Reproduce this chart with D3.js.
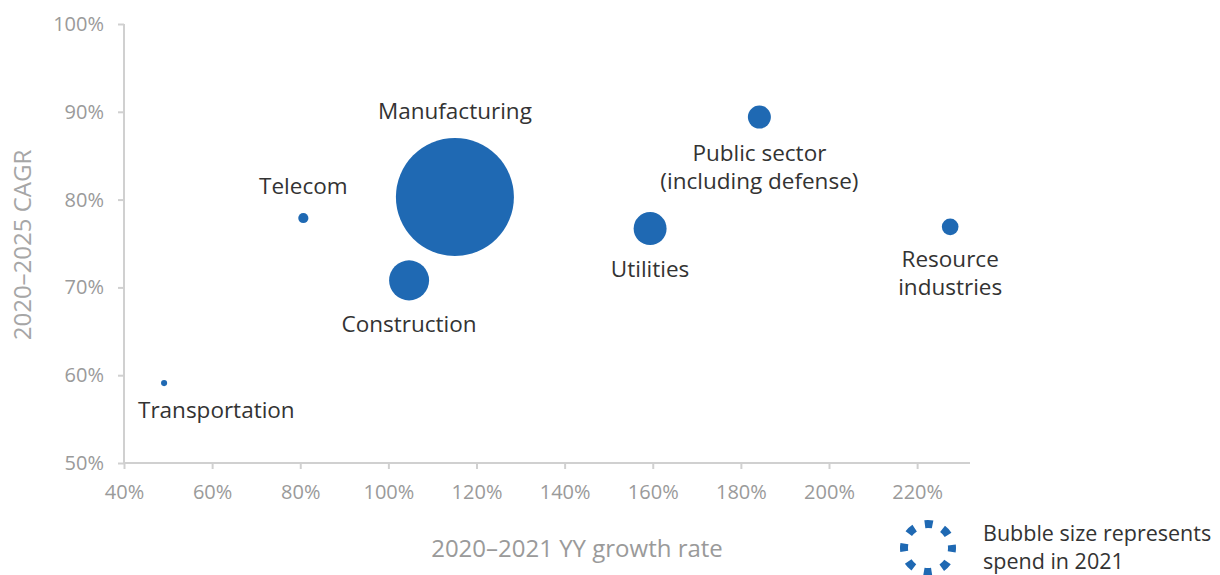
<!DOCTYPE html>
<html>
<head>
<meta charset="utf-8">
<script src="https://cdn.jsdelivr.net/npm/d3@7"></script>
<style>
  html, body { margin: 0; padding: 0; background: #fff; }
  svg { display: block; font-family: "Open Sans", "Noto Sans", sans-serif; }
</style>
</head>
<body>
<svg id="chart" width="1220" height="575"></svg>
<script>
// ---- Data ----
const sectors = ["Transportation", "Telecom", "Construction", "Manufacturing", "Utilities", "Public sector\n(including defense)", "Resource\nindustries"];
const growth2021 = [49.1, 80.7, 104.7, 115.1, 159.4, 184.2, 227.5];  // 2020–2021 YY growth rate, %
const cagr2025 = [59.1, 77.9, 70.8, 80.3, 76.7, 89.4, 76.9];         // 2020–2025 CAGR, %
const spend2021 = [0.27, 0.74, 11.5, 100, 7.8, 3.8, 2.0];            // relative spend in 2021 (bubble area)
const xTicks = [40, 60, 80, 100, 120, 140, 160, 180, 200, 220];
const yTicks = [50, 60, 70, 80, 90, 100];
// label placement: "above" or "below" the bubble
const labelSide = ["below", "above", "below", "above", "below", "below", "below"];

const svg = d3.select("#chart");
const blue = "#1f69b3";
const axisColor = "#d0d0d0";
const tickTextColor = "#9a9a9a";

const x = d3.scaleLinear().domain([40, 232]).range([124, 970]);
const y = d3.scaleLinear().domain([50, 100]).range([463, 24]);
const r = d3.scaleSqrt().domain([0, d3.max(spend2021)]).range([0, 59]);

// Axes
const xAxis = d3.axisBottom(x).tickValues(xTicks).tickFormat(d => d + "%").tickSize(6).tickSizeOuter(0).tickPadding(16);
const yAxis = d3.axisLeft(y).tickValues(yTicks).tickFormat(d => d + "%").tickSize(6).tickSizeOuter(0).tickPadding(14);

const gx = svg.append("g").attr("transform", `translate(0,${y(50)})`).call(xAxis);
const gy = svg.append("g").attr("transform", `translate(${x(40)},0)`).call(yAxis);
[gx, gy].forEach(g => {
  g.attr("font-family", null).attr("font-size", null);
  g.select(".domain").attr("stroke", axisColor).attr("stroke-width", 2);
  g.selectAll(".tick line").attr("stroke", axisColor).attr("stroke-width", 2);
  g.selectAll(".tick text").attr("fill", tickTextColor).style("font-size", "20px");
});
gy.select(".domain").attr("d", `M0,${y(100)}V${y(50)}`);
gx.select(".domain").attr("d", `M${x(40)},0H${x(232)}`);

// Axis titles
svg.append("text")
  .attr("x", 577).attr("y", 557)
  .attr("text-anchor", "middle")
  .attr("fill", "#9a9a9a")
  .style("font-size", "24px")
  .text("2020–2021 YY growth rate");

svg.append("text")
  .attr("transform", `translate(31,245) rotate(-90)`)
  .attr("text-anchor", "middle")
  .attr("fill", "#a6a6a6")
  .style("font-size", "24px")
  .text("2020–2025 CAGR");

// Bubbles
const data = sectors.map((s, i) => ({ name: s, gx: growth2021[i], cy: cagr2025[i], spend: spend2021[i], side: labelSide[i] }));

svg.append("g").selectAll("circle")
  .data(data)
  .join("circle")
  .attr("cx", d => x(d.gx))
  .attr("cy", d => y(d.cy))
  .attr("r", d => r(d.spend))
  .attr("fill", blue);

// Labels (one text element per line, centred on bubble, kept clear of the y axis)
const labelSize = 22.5;
const lineH = 28;
const minLeft = x(40) + 14;
const lg0 = svg.append("g");
data.forEach(d => {
  const lines = d.name.split("\n");
  const rad = r(d.spend);
  const y0 = d.side === "above"
    ? y(d.cy) - rad - 19 - (lines.length - 1) * lineH
    : y(d.cy) + rad + 32;
  lines.forEach((ln, i) => {
    const t = lg0.append("text")
      .attr("text-anchor", "middle")
      .attr("fill", "#333")
      .style("font-size", labelSize + "px")
      .attr("x", x(d.gx))
      .attr("y", y0 + i * lineH)
      .text(ln);
    const w = t.node().getComputedTextLength();
    if (x(d.gx) - w / 2 < minLeft) t.attr("x", minLeft + w / 2);
  });
});

// Legend
const lg = svg.append("g").attr("transform", "translate(928,548)");
const ringR = 24;
const circ = 2 * Math.PI * ringR;
const dash = 8;
lg.append("circle")
  .attr("r", ringR)
  .attr("fill", "none")
  .attr("stroke", blue)
  .attr("stroke-width", 8)
  .attr("stroke-dasharray", `${dash} ${circ / 8 - dash}`)
  .attr("stroke-dashoffset", dash / 2);

svg.append("text").attr("fill", "#333").style("font-size", "21.5px")
  .attr("x", 983).attr("y", 541).text("Bubble size represents");
svg.append("text").attr("fill", "#333").style("font-size", "21.5px")
  .attr("x", 983).attr("y", 569).text("spend in 2021");
</script>
</body>
</html>
